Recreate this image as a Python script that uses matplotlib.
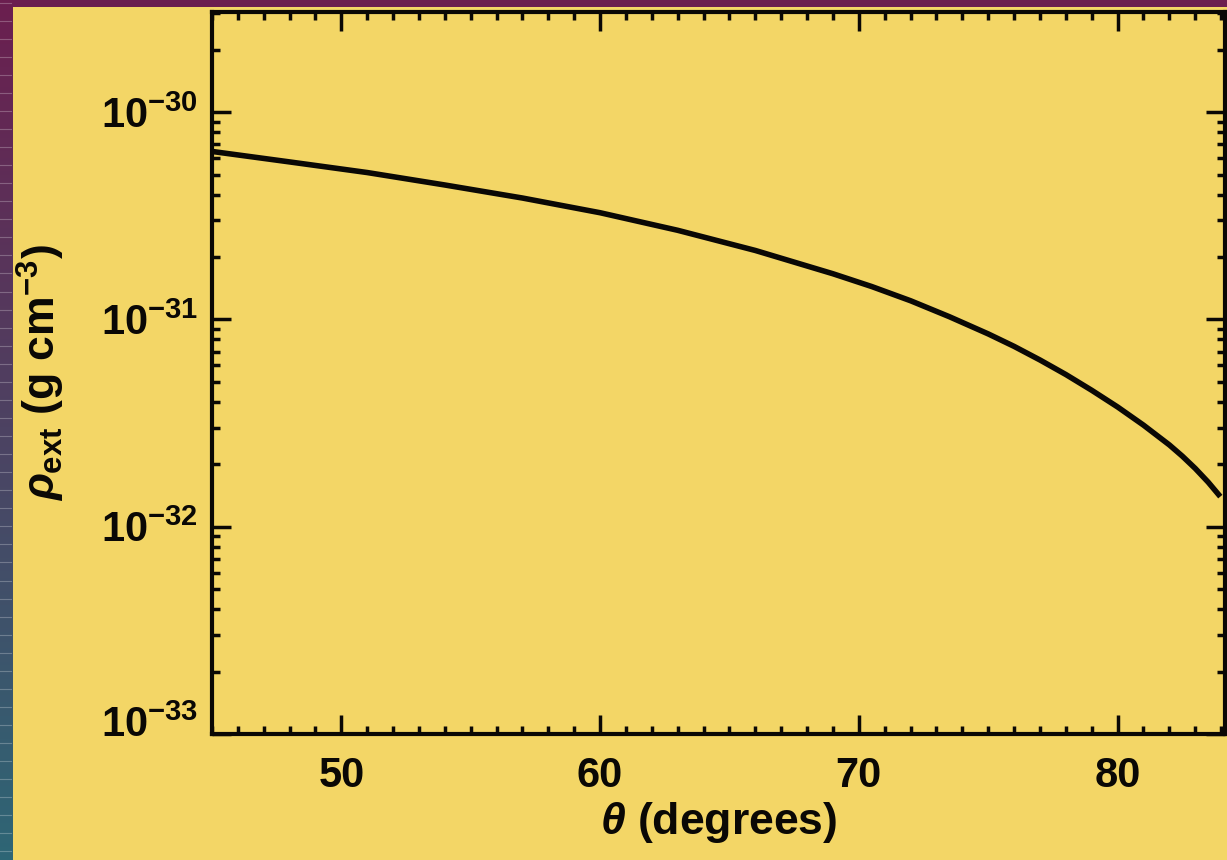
import numpy as np
import matplotlib
matplotlib.use("Agg")
import matplotlib.pyplot as plt
import matplotlib.transforms as mtransforms
from matplotlib.patches import Rectangle
from matplotlib.ticker import FixedLocator, MultipleLocator, LogLocator, NullFormatter

# data
theta = [45, 48, 51, 54, 57, 60, 63, 66, 69, 70.5, 72, 73.5, 75, 76, 77,
         78, 79, 80, 81, 82, 82.5, 83, 83.5, 83.9]
rho_ext = [6.46e-31, 5.75e-31, 5.11e-31, 4.45e-31, 3.85e-31, 3.27e-31,
           2.69e-31, 2.15e-31, 1.66e-31, 1.44e-31, 1.23e-31, 1.03e-31,
           8.51e-32, 7.41e-32, 6.37e-32, 5.42e-32, 4.55e-32, 3.78e-32,
           3.09e-32, 2.48e-32, 2.19e-32, 1.91e-32, 1.64e-32, 1.43e-32]

x_ticks = [50, 60, 70, 80]
y_ticks = [1e-33, 1e-32, 1e-31, 1e-30]
y_tick_labels = [r"$\mathregular{10^{-33}}$", r"$\mathregular{10^{-32}}$",
                 r"$\mathregular{10^{-31}}$", r"$\mathregular{10^{-30}}$"]

YELLOW = "#f3d666"
INK = "#0a0805"

plt.rcParams["font.family"] = ["Liberation Sans", "DejaVu Sans"]
plt.rcParams["font.weight"] = "bold"
plt.rcParams["axes.labelweight"] = "bold"
plt.rcParams["mathtext.fontset"] = "custom"
plt.rcParams["mathtext.rm"] = "Liberation Sans:bold"
plt.rcParams["mathtext.it"] = "Liberation Sans:italic:bold"
plt.rcParams["mathtext.bf"] = "Liberation Sans:bold"
plt.rcParams["mathtext.default"] = "rm"

W, H = 1227, 860
fig = plt.figure(figsize=(W / 100, H / 100), dpi=100)

# slide background: purple-to-teal gradient, yellow paper on top
bg = fig.add_axes([0, 0, 1, 1], zorder=-5)
grad = np.linspace(0, 1, 256)[:, None]
top = np.array([0.42, 0.12, 0.31])
bot = np.array([0.18, 0.40, 0.46])
img = top[None, None, :] * (1 - grad[:, :, None]) + bot[None, None, :] * grad[:, :, None]
bg.imshow(img, extent=[0, 1, 0, 1], aspect="auto", origin="upper")
for yy in np.arange(0.01, 1.0, 0.021):
    bg.plot([0, 0.009], [yy, yy], color="white", alpha=0.25, lw=0.8)
bg.add_patch(Rectangle((13 / W, 0), 1 - 13 / W, 1 - 7 / H,
                       facecolor=YELLOW, edgecolor="none"))
bg.set_xlim(0, 1)
bg.set_ylim(0, 1)
bg.axis("off")

ax = fig.add_axes([212 / W, 1 - 734 / H, (1225 - 212) / W, (734 - 12) / H])
ax.set_facecolor("none")

ax.plot(theta, rho_ext, color=INK, lw=4, solid_joinstyle="round")

ax.set_yscale("log")
ax.set_xlim(45, 84.15)
ax.set_ylim(1e-33, 3.04e-30)

ax.xaxis.set_major_locator(FixedLocator(x_ticks))
ax.xaxis.set_minor_locator(MultipleLocator(1))
ax.set_xticklabels([str(t) for t in x_ticks])
ax.yaxis.set_major_locator(FixedLocator(y_ticks))
ax.set_yticklabels(y_tick_labels)
ax.yaxis.set_minor_locator(LogLocator(base=10, subs=np.arange(2, 10)))
ax.yaxis.set_minor_formatter(NullFormatter())

for s in ax.spines.values():
    s.set_linewidth(3)
    s.set_color(INK)

ax.tick_params(which="both", direction="in", top=True, right=True,
               color=INK, width=2.5)
ax.tick_params(which="major", length=14)
ax.tick_params(which="minor", length=6)
ax.tick_params(axis="x", which="major", labelsize=30, pad=16, labelcolor=INK)
ax.tick_params(axis="y", which="major", labelsize=30, pad=10, labelcolor=INK)

# the lowest label sits a bit above its tick in the original
low = ax.get_yticklabels()[0]
low.set_transform(low.get_transform() +
                  mtransforms.ScaledTranslation(0, 0.13, fig.dpi_scale_trans))

ax.set_xlabel(r"$\mathit{\theta}$ (degrees)", fontsize=32, color=INK,
              fontweight="bold", labelpad=3)
ax.set_ylabel(r"$\mathit{\rho}_{\mathregular{ext}}$ (g cm$^{\mathregular{-3}}$)",
              fontsize=32, color=INK, fontweight="bold", labelpad=24)

fig.savefig("out.png", dpi=100)
